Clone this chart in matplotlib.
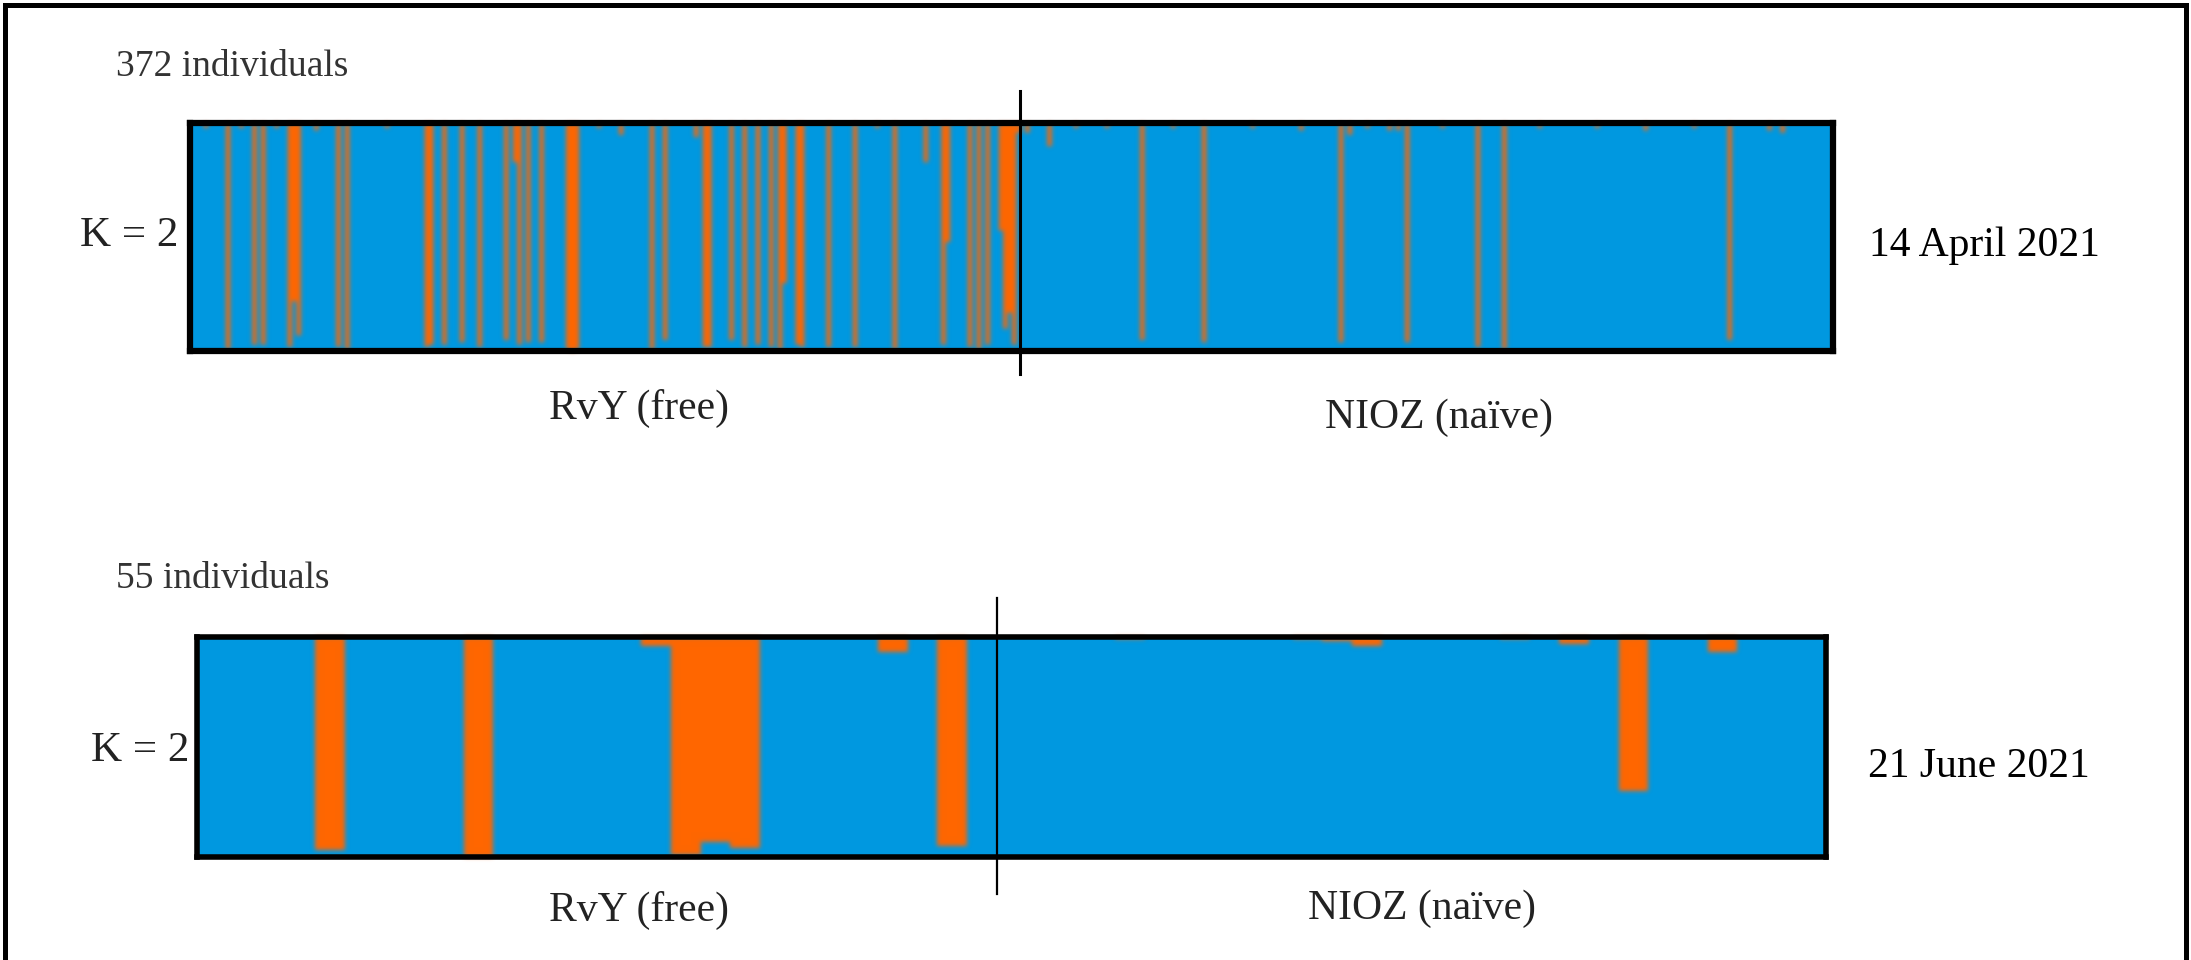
import matplotlib.pyplot as plt
from matplotlib.lines import Line2D
import numpy as np

# STRUCTURE K=2 membership (orange cluster share per individual)
# top run: 372 individuals, 188 RvY then 184 NIOZ
top_n_rvy = 188
top_n_nioz = 184
top_orange = {
    3: 0.02, 8: 0.99, 11: 0.02, 14: 0.97, 16: 0.97, 19: 0.02,
    22: 0.98, 23: 0.78, 24: 0.93, 28: 0.03, 33: 0.98, 35: 0.99, 44: 0.02,
    53: 0.98, 54: 0.97, 57: 0.97, 61: 0.96, 65: 0.98, 71: 0.95,
    73: 0.17, 74: 0.97, 76: 0.96, 79: 0.96, 85: 0.99, 86: 1.0, 87: 0.99,
    92: 0.02, 97: 0.05, 104: 0.99, 107: 0.95, 114: 0.06, 116: 0.98, 117: 0.98,
    122: 0.95, 125: 0.98, 128: 0.97, 131: 0.98, 133: 0.99, 134: 0.70,
    137: 0.97, 138: 0.98, 144: 0.98, 150: 0.98, 155: 0.02, 159: 0.99,
    166: 0.17, 170: 0.97, 171: 0.52, 176: 0.98, 178: 0.99, 180: 0.97,
    183: 0.47, 184: 0.90, 185: 0.83, 186: 0.97, 187: 0.04,
    189: 0.04, 194: 0.10, 200: 0.02, 207: 0.02, 215: 0.95, 222: 0.02,
    229: 0.96, 240: 0.02, 251: 0.03, 260: 0.96, 262: 0.05, 266: 0.02,
    271: 0.03, 273: 0.03, 275: 0.96, 283: 0.02, 291: 0.98, 297: 0.99,
    305: 0.02, 318: 0.02, 329: 0.03, 340: 0.02, 348: 0.95, 357: 0.03, 360: 0.04,
}

# bottom run: 55 individuals, 27 RvY then 28 NIOZ
bot_n_rvy = 27
bot_n_nioz = 28
bot_orange = {
    4: 0.97, 9: 1.0, 15: 0.04, 16: 0.99, 17: 0.93, 18: 0.96, 23: 0.07, 25: 0.95,
    31: 0.01, 37: 0.01, 38: 0.02, 39: 0.04, 44: 0.01, 46: 0.03, 48: 0.70, 51: 0.07,
}

blue = '#0098E0'
orange = '#FF6600'

plt.rcParams['font.family'] = ['Liberation Serif', 'DejaVu Serif']

W, H = 2191, 960
fig = plt.figure(figsize=(W / 100, H / 100), dpi=100)


def fx(px):
    return px / W


def fy(py):
    return 1 - py / H


def soft_edges(sigma):
    # small gaussian blur on the alpha channel, like the scanned original
    pad = int(3 * sigma) + 1
    k = np.exp(-0.5 * (np.arange(-pad, pad + 1) / sigma) ** 2)
    k /= k.sum()

    def f(im, dpi):
        a = np.pad(im[:, :, 3], pad)
        out = np.zeros_like(a)
        for i, w in enumerate(k):
            out += w * np.roll(a, i - pad, axis=1)
        a = out
        out = np.zeros_like(a)
        for i, w in enumerate(k):
            out += w * np.roll(a, i - pad, axis=0)
        res = np.zeros((a.shape[0], a.shape[1], 4))
        res[:, :, :3] = plt.matplotlib.colors.to_rgb(orange)
        res[:, :, 3] = np.clip(out, 0, 1)
        return res, -pad, -pad
    return f


def structure_panel(rect, n_rvy, n_nioz, orange_share, spine_w, div_w, div_y):
    ax = fig.add_axes(rect)
    ax.set_facecolor(blue)
    n = n_rvy + n_nioz
    q = np.zeros(n)
    for i, v in orange_share.items():
        q[i] = v
    x = np.arange(n)
    ax.bar(x, 1 - q, bottom=0, width=1.0, color=blue, linewidth=0)
    edges = np.arange(n + 1) - 0.5
    top_of_blue = np.append(1 - q, 1 - q[-1])
    orange_layer = ax.fill_between(edges, top_of_blue, 1, step='post',
                                   color=orange, linewidth=0)
    orange_layer.set_agg_filter(soft_edges(1.6))
    ax.set_xlim(-0.5, n - 0.5)
    ax.set_ylim(0, 1)
    ax.set_xticks([])
    ax.set_yticks([])
    for s in ax.spines.values():
        s.set_linewidth(spine_w)
        s.set_color('black')
        s.set_zorder(4)
    ax.plot([n_rvy - 0.5, n_rvy - 0.5], div_y, color='black', lw=div_w,
            clip_on=False, zorder=5)
    return ax


# top panel (pixels 190..1833 x 123..351)
structure_panel([fx(190), fy(351), fx(1833) - fx(190), fy(123) - fy(351)],
                top_n_rvy, top_n_nioz, top_orange, 4.5, 2.2, [1.14, -0.10])

# bottom panel (pixels 197..1826 x 637..857)
structure_panel([fx(197), fy(857), fx(1826) - fx(197), fy(637) - fy(857)],
                bot_n_rvy, bot_n_nioz, bot_orange, 4.0, 1.6, [1.177, -0.168])

# outer frame, open at the bottom
frame_kw = dict(color='black', lw=3.6, transform=fig.transFigure)
fig.add_artist(Line2D([fx(5), fx(5)], [0, fy(5)], **frame_kw))
fig.add_artist(Line2D([fx(5), fx(2186)], [fy(5), fy(5)], **frame_kw))
fig.add_artist(Line2D([fx(2186), fx(2186)], [fy(5), 0], **frame_kw))

lab = '#222222'
fig.text(fx(116), fy(67), '372 individuals', fontsize=27, color='#333333',
         ha='left', va='center')
fig.text(fx(178), fy(236), 'K = 2', fontsize=31, color=lab, ha='right', va='center')
fig.text(fx(639), fy(408), 'RvY (free)', fontsize=30, color=lab, ha='center', va='center')
fig.text(fx(1439), fy(418), 'NIOZ (naïve)', fontsize=30, color=lab, ha='center', va='center')
fig.text(fx(1869), fy(246), '14 April 2021', fontsize=30, color='black', ha='left', va='center')

fig.text(fx(116), fy(579), '55 individuals', fontsize=27, color='#333333',
         ha='left', va='center')
fig.text(fx(189), fy(751), 'K = 2', fontsize=31, color=lab, ha='right', va='center')
fig.text(fx(639), fy(910), 'RvY (free)', fontsize=30, color=lab, ha='center', va='center')
fig.text(fx(1422), fy(909), 'NIOZ (naïve)', fontsize=30, color=lab, ha='center', va='center')
fig.text(fx(1868), fy(767), '21 June 2021', fontsize=30, color='black', ha='left', va='center')

fig.savefig('out.png', dpi=100)
